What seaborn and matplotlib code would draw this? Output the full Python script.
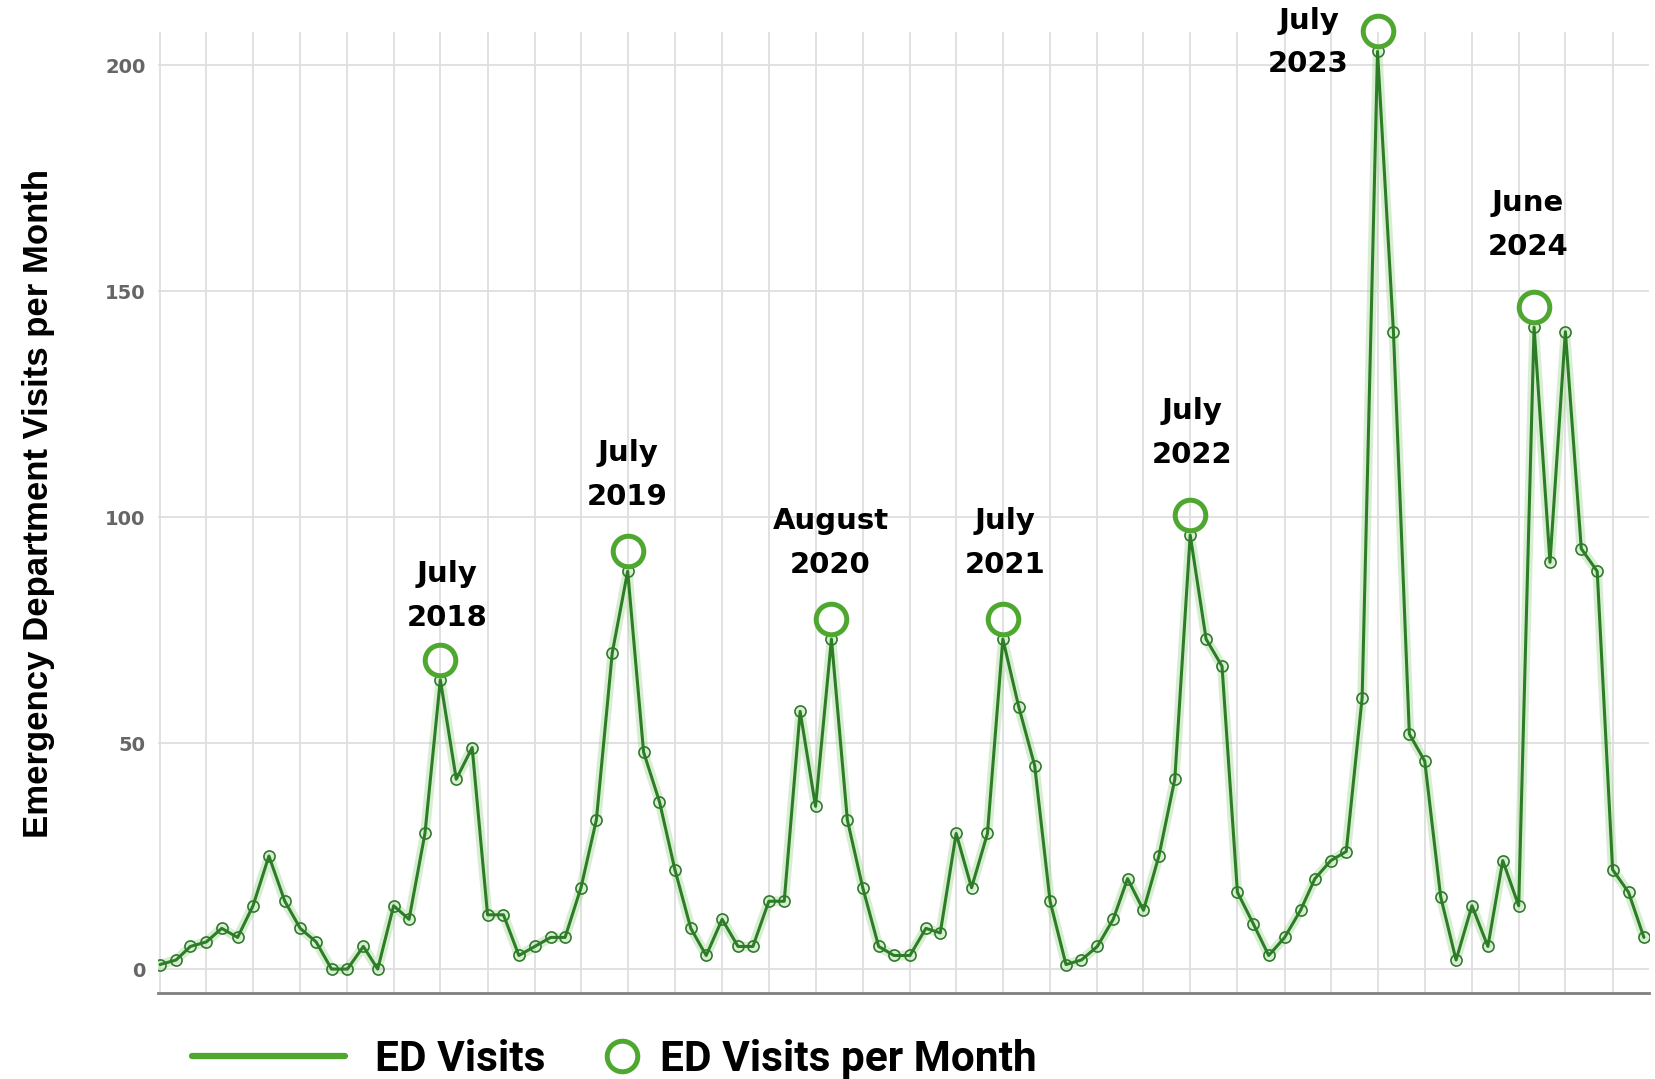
import numpy as np
import pandas as pd
import seaborn as sns
import matplotlib.pyplot as plt
import matplotlib.dates as mdates
from matplotlib.lines import Line2D
from matplotlib.ticker import MultipleLocator
from matplotlib.transforms import offset_copy

# Monthly emergency department visits, Jan 2017 - Dec 2024
months = pd.date_range('2017-01-01', '2024-12-01', freq='MS')
visits_2017 = [1, 2, 5, 6, 9, 7, 14, 25, 15, 9, 6, 0]
visits_2018 = [0, 5, 0, 14, 11, 30, 64, 42, 49, 12, 12, 3]
visits_2019 = [5, 7, 7, 18, 33, 70, 88, 48, 37, 22, 9, 3]
visits_2020 = [11, 5, 5, 15, 15, 57, 36, 73, 33, 18, 5, 3]
visits_2021 = [3, 9, 8, 30, 18, 30, 73, 58, 45, 15, 1, 2]
visits_2022 = [5, 11, 20, 13, 25, 42, 96, 73, 67, 17, 10, 3]
visits_2023 = [7, 13, 20, 24, 26, 60, 203, 141, 52, 46, 16, 2]
visits_2024 = [14, 5, 24, 14, 142, 90, 141, 93, 88, 22, 17, 7]

# Highlighted yearly peaks
peak_months = ['2018-07-01', '2019-07-01', '2020-08-01', '2021-07-01',
               '2022-07-01', '2023-07-01', '2024-05-01']
peak_labels = ['July\n2018', 'July\n2019', 'August\n2020', 'July\n2021',
               'July\n2022', 'July\n2023', 'June\n2024']
# label offset from the peak circle, in pixels (dx, dy)
label_offsets = [(7, 64), (0, 76), (-1, 76), (2, 76), (2, 82), (-69, -11), (-6, 82)]

df = pd.DataFrame({
    'month': months,
    'visits': (visits_2017 + visits_2018 + visits_2019 + visits_2020 +
               visits_2021 + visits_2022 + visits_2023 + visits_2024),
})

line_clr = '#2d7d27'
hl_clr = '#4ea72e'
px = 0.72  # pixels -> points at dpi 100

# Set seaborn
sns.set_theme(style='whitegrid')
plt.rcParams['font.family'] = ['DejaVu Sans']

fig = plt.figure(figsize=(16.55, 10.79), dpi=100)
ax = fig.add_axes([0.0955, 0.0797, 0.9009, 0.8906])

# Soft halo under the line, then the line with hollow markers
sns.lineplot(data=df, x='month', y='visits', ax=ax, color='#8fd07f',
             lw=7, alpha=0.35, zorder=2)
sns.lineplot(data=df, x='month', y='visits', ax=ax, color=line_clr,
             lw=2.2, marker='o', markersize=8, markerfacecolor='none',
             markeredgecolor='#2f7a2a', markeredgewidth=1.2, zorder=3)

# Peak circles sit just above the peak point
peaks = df.set_index('month').loc[pd.to_datetime(peak_months), 'visits']
circ_tr = offset_copy(ax.transData, fig=fig, y=20 * px, units='points')
ax.plot(peaks.index, peaks.values, 'o', transform=circ_tr, ms=22,
        mfc='none', mec=hl_clr, mew=3.6, clip_on=False, zorder=5)

for (m, v), lab, (dx, dy) in zip(peaks.items(), peak_labels, label_offsets):
    ax.annotate(lab, xy=(m, v), xytext=(dx * px, (dy + 20) * px),
                textcoords='offset points', ha='center', va='center',
                fontsize=21, fontweight='bold', color='black',
                linespacing=1.72, annotation_clip=False, zorder=6)

# Axes
ax.set_xlim(months[0] - pd.Timedelta(days=4), months[-1] + pd.Timedelta(days=10))
ax.set_ylim(-5.3, 207.3)
ax.yaxis.set_major_locator(MultipleLocator(50))
ax.xaxis.set_major_locator(mdates.MonthLocator(bymonth=[1, 4, 7, 10]))
ax.set_xticklabels([])
ax.set_xlabel('')
ax.grid(True, color='#dedede', lw=1.3)
for side in ['left', 'right', 'top']:
    ax.spines[side].set_visible(False)
ax.spines['bottom'].set_color('#7f7f7f')
ax.spines['bottom'].set_linewidth(2)
ax.tick_params(axis='x', length=0)
ax.tick_params(axis='y', length=0, pad=9, labelsize=14, labelcolor='#666666')
for lbl in ax.get_yticklabels():
    lbl.set_fontweight('bold')

ax.set_ylabel('Emergency Department Visits per Month', fontsize=25,
              fontweight='bold', family=['Liberation Sans', 'DejaVu Sans'],
              color='black')
ax.yaxis.set_label_coords(-0.069, 0.509)

# Legend
leg_font = {'family': ['Roboto', 'DejaVu Sans'], 'weight': 'bold', 'size': 30.5}
fig.legend(handles=[Line2D([], [], color=hl_clr, lw=4.5)], labels=['ED Visits'],
           loc='center left', bbox_to_anchor=(192 / 1655, 0.0185),
           frameon=False, handlelength=3.6, handletextpad=0.72,
           borderpad=0, borderaxespad=0, prop=leg_font, labelcolor='black')
fig.legend(handles=[Line2D([], [], ls='none', marker='o', ms=22, mfc='none',
                           mec=hl_clr, mew=3.6)],
           labels=['ED Visits per Month'],
           loc='center left', bbox_to_anchor=(601 / 1655, 0.0185),
           frameon=False, handlelength=0.97, handletextpad=0.43,
           borderpad=0, borderaxespad=0, prop=leg_font, labelcolor='black')

# Save
fig.savefig('out.png', dpi=100)
